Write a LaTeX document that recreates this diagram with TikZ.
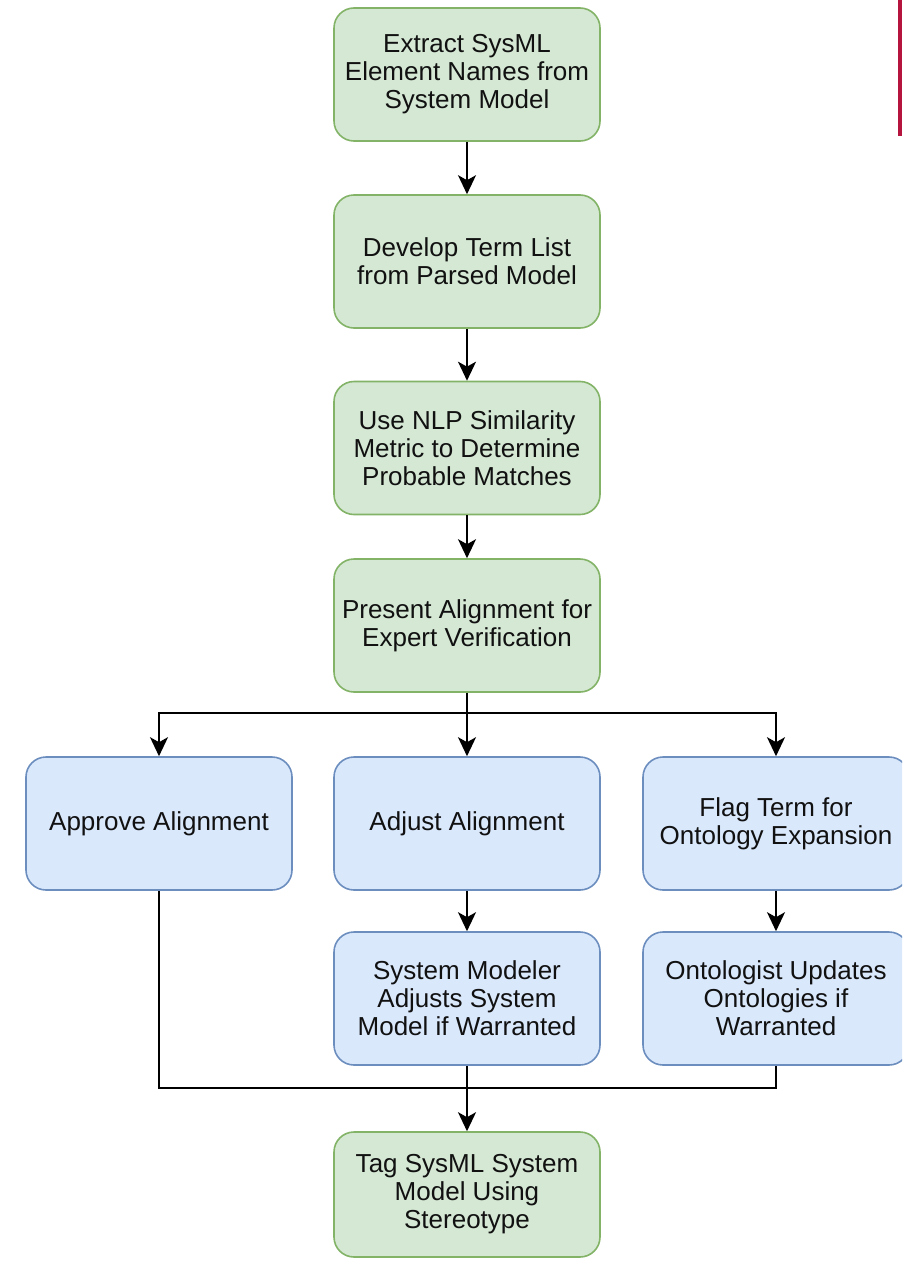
\documentclass[tikz,border=0pt]{standalone}
\usepackage{fontspec}
\setmainfont{Liberation Sans}
\usetikzlibrary{arrows.meta}

\definecolor{greenfill}{HTML}{D5E8D4}
\definecolor{greenline}{HTML}{82B366}
\definecolor{bluefill}{HTML}{DAE8FC}
\definecolor{blueline}{HTML}{6C8EBF}
\definecolor{textdark}{HTML}{111111}
\definecolor{edgebar}{HTML}{B5143F}

\tikzset{
  stepbox/.style={rounded corners=20pt, line width=1.6pt, minimum width=266pt,
    minimum height=133pt, align=center, inner sep=0pt, text=textdark,
    font=\fontsize{26}{28}\selectfont},
  greenbox/.style={stepbox, fill=greenfill, draw=greenline},
  bluebox/.style={stepbox, fill=bluefill, draw=blueline},
  link/.style={line width=2pt, draw=black},
  arr/.style={link, -{Stealth[length=19pt, width=18pt, inset=5pt]}}
}

\begin{document}
\begin{tikzpicture}[x=1pt, y=-1pt]
  \useasboundingbox (0,0) rectangle (902,1263);
  \fill[white] (0,0) rectangle (902,1263);
  \clip (0,0) rectangle (902,1263);

  % thin bar at the top right edge
  \fill[edgebar] (898,0) rectangle (902,136);

  % main sequence
  \node[greenbox] (extract) at (467,74.5) {Extract SysML\\Element Names from\\System Model};
  \node[greenbox] (develop) at (467,261.5) {Develop Term List\\from Parsed Model};
  \node[greenbox] (nlp) at (467,448) {Use NLP Similarity\\Metric to Determine\\Probable Matches};
  \node[greenbox] (present) at (467,625.5) {Present Alignment for\\Expert Verification};

  % expert decisions
  \node[bluebox] (approve) at (159,823.5) {Approve Alignment};
  \node[bluebox] (adjust) at (467,823.5) {Adjust Alignment};
  \node[bluebox] (flag) at (776,823.5) {Flag Term for\\Ontology Expansion};

  % follow-up actions
  \node[bluebox] (modeler) at (467,998.5) {System Modeler\\Adjusts System\\Model if Warranted};
  \node[bluebox] (ontologist) at (776,998.5) {Ontologist Updates\\Ontologies if\\Warranted};

  % final step
  \node[greenbox, minimum height=125pt] (tag) at (467,1194.5) {Tag SysML System\\Model Using\\Stereotype};

  % branch and merge points
  \coordinate (split) at (467,713);
  \coordinate (merge) at (467,1088);

  % connectors
  \draw[arr] (extract) -- (develop);
  \draw[arr] (develop) -- (nlp);
  \draw[arr] (nlp) -- (present);

  \draw[link] (present) -- (split);
  \draw[arr] (split) -| (approve.north);
  \draw[arr] (split) -- (adjust);
  \draw[arr] (split) -| (flag.north);

  \draw[arr] (adjust) -- (modeler);
  \draw[arr] (flag.south) -- (ontologist.north);

  \draw[link] (approve.south) |- (merge);
  \draw[link] (ontologist.south) |- (merge);
  \draw[arr] (modeler) -- (tag);
\end{tikzpicture}
\end{document}
